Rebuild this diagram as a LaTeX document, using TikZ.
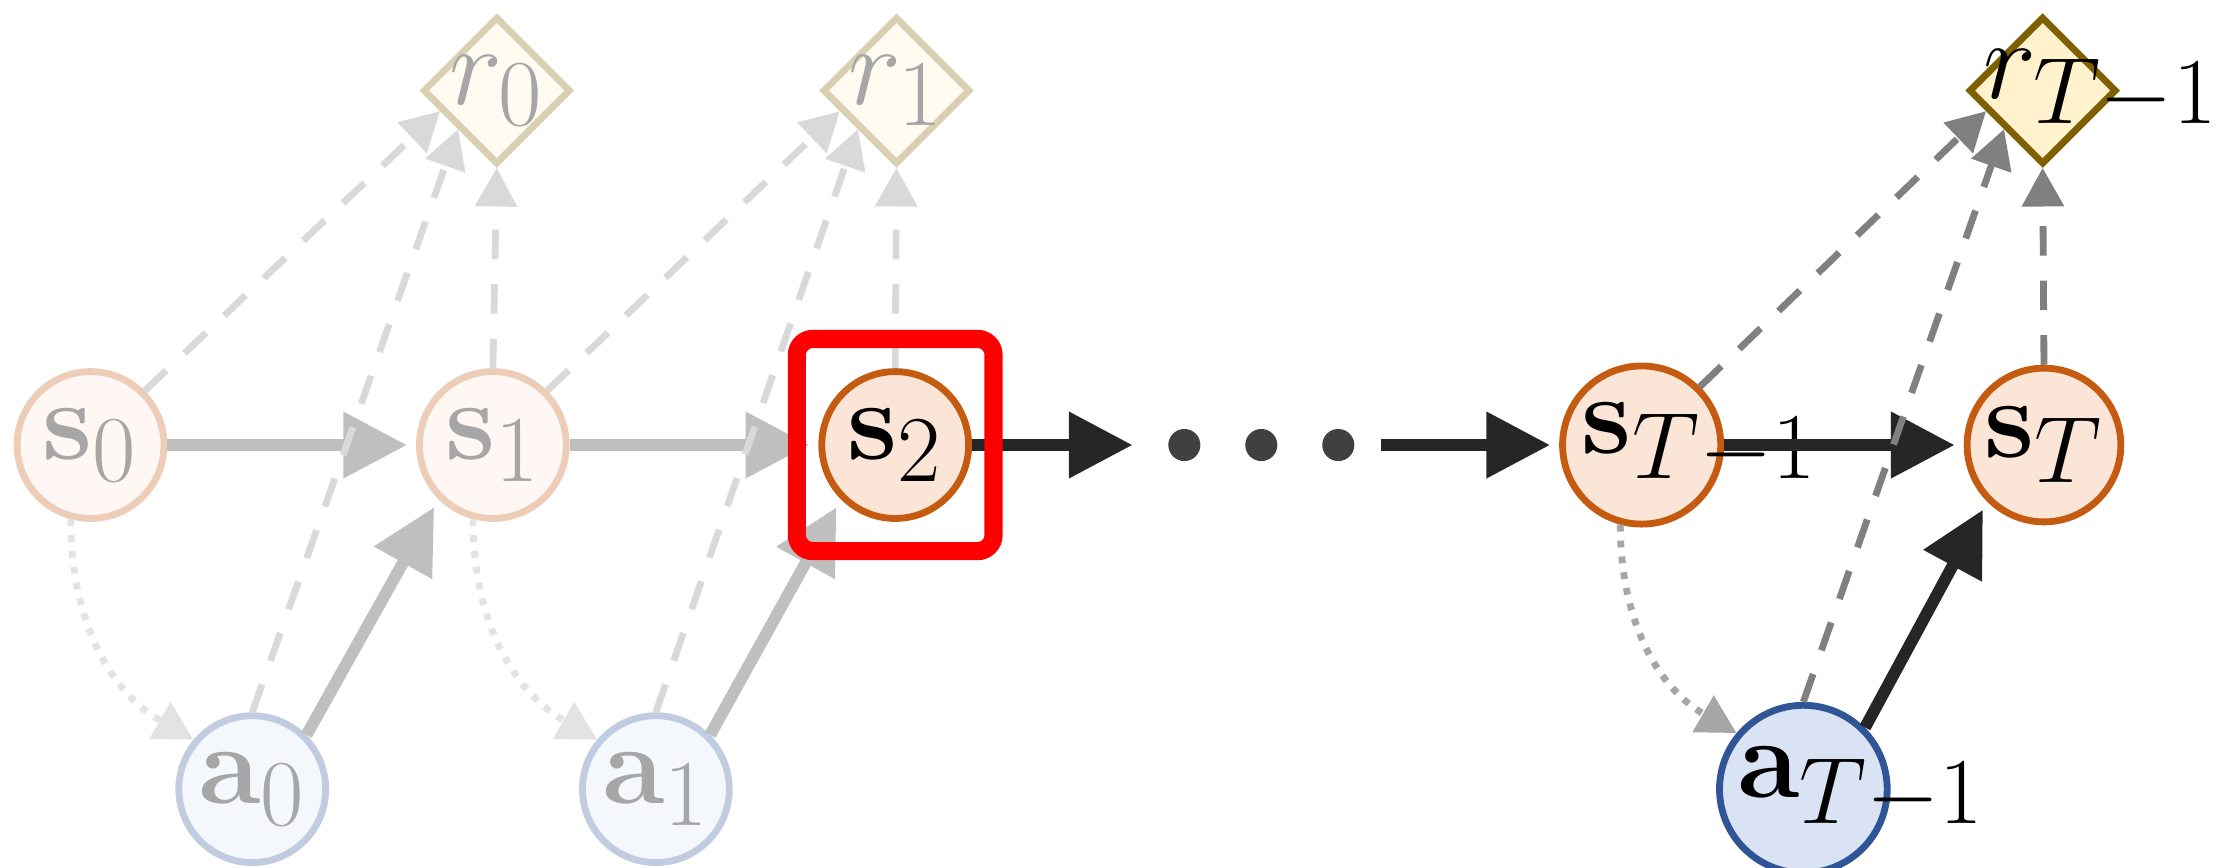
\documentclass[tikz,border=0pt]{standalone}
\usepackage{amsmath}
\usepackage{amssymb}
\usepackage{mathtools}
\usepackage{tikz}
\usetikzlibrary{arrows.meta,shapes.geometric}

\definecolor{statefill}{HTML}{FAE5D7}
\definecolor{statedraw}{HTML}{C55A11}
\definecolor{actfill}{HTML}{DAE3F3}
\definecolor{actdraw}{HTML}{2F5597}
\definecolor{rewfill}{HTML}{FFF2CC}
\definecolor{rewdraw}{HTML}{7F6000}

\tikzset{
	statenode/.style={circle, line width=1.5pt, draw=statedraw, fill=statefill, minimum size=32.3pt, inner sep=1pt, font=\Huge},
	fadedstate/.style={statenode, draw=statedraw!30, fill=statefill!30, text=black!35},
	actnode/.style={statenode, draw=actdraw, fill=actfill},
	fadedaction/.style={actnode, draw=actdraw!30, fill=actfill!30, text=black!35},
	rewnode/.style={diamond, line width=1.5pt, draw=rewdraw, fill=rewfill, minimum size=32.5pt, inner sep=1pt, font=\Huge},
	fadedreward/.style={rewnode, draw=rewdraw!30, fill=rewfill!30, text=black!35},
	flow/.style={line width=2.6pt, draw=black!85, -{Triangle[length=14pt,width=14pt]}, shorten >=2pt},
	fadedflow/.style={flow, draw=black!25},
	link/.style={line width=1.5pt, draw=black!50, dash pattern=on 6.5pt off 5.5pt, -{Triangle[length=8.5pt,width=9pt]}},
	fadedlink/.style={link, draw=black!15},
	pick/.style={line width=1.5pt, draw=black!35, dotted, -{Triangle[length=8.5pt,width=9pt]}},
	fadedpick/.style={pick, draw=black!11},
	focus/.style={draw=red, line width=4pt, rounded corners=3.5pt, minimum width=1.52cm, minimum height=1.64cm}
}

\begin{document}
\begin{tikzpicture}
		\useasboundingbox (0,-3.262) rectangle (17.13,3.44);

		% states
		\node [fadedstate] (s0) at (0.70,0) {$\mathbf{s}_0$};
		\node [fadedstate] (s1) at (3.81,0) {$\mathbf{s}_1$};
		\node [statenode] (s2) at (6.92,0) {$\mathbf{s}_2$};
		\node [statenode] (sT1) at (12.69,0) {$\mathbf{s}_{T\mathrlap{-1}}$};
		\node [statenode] (sT) at (15.80,0) {$\mathbf{s}_T$};

		% actions
		\node [fadedaction] (a0) at (1.95,-2.66) {$\mathbf{a}_0$};
		\node [fadedaction] (a1) at (5.07,-2.66) {$\mathbf{a}_1$};
		\node [actnode] (aT1) at (13.94,-2.66) {$\mathbf{a}_{T\mathrlap{-1}}$};

		% rewards
		\node [fadedreward] (r0) at (3.84,2.74) {\makebox[0pt]{$r_0$}};
		\node [fadedreward] (r1) at (6.93,2.74) {\makebox[0pt]{$r_1$}};
		\node [rewnode] (rT1) at (15.79,2.74) {\makebox[0pt]{$r_{T\mathrlap{-1}}$}};

		% dots
		\node [minimum width=1.85cm, inner sep=0pt, outer sep=0pt] (dots) at (9.75,0) {};
		\foreach \dx in {-0.595,0,0.595}
			\fill [black!75] ([xshift=\dx cm]dots) circle [radius=0.124];

		% transitions
		\draw [fadedflow] (s0) -- (s1);
		\draw [fadedflow] (s1) -- (s2);
		\draw [flow] (s2) -- (dots);
		\draw [flow] (dots) -- (sT1);
		\draw [flow] (sT1) -- (sT);
		\draw [fadedflow] (a0.north east) -- (s1.south west);
		\draw [fadedflow] (a1.north east) -- (s2.south west);
		\draw [flow] (aT1.north east) -- (sT.south west);

		% policy
		\draw [fadedpick] (s0.-105) to[out=-90,in=150] (a0.140);
		\draw [fadedpick] (s1.-105) to[out=-90,in=150] (a1.140);
		\draw [pick] (sT1.-105) to[out=-90,in=150] (aT1.140);

		% rewards
		\draw [fadedlink] (s0.north east) -- (r0.200);
		\draw [fadedlink] (a0.north) -- (r0.south west);
		\draw [fadedlink] (s1.north) -- (r0.south);
		\draw [fadedlink] (s1.north east) -- (r1.200);
		\draw [fadedlink] (a1.north) -- (r1.south west);
		\draw [fadedlink] (s2.north) -- (r1.south);
		\draw [link] (sT1.north east) -- (rT1.200);
		\draw [link] (aT1.north) -- (rT1.south west);
		\draw [link] (sT.north) -- (rT1.south);

		% current state
		\node [focus] (box) at (s2) {};
	\end{tikzpicture}
\end{document}
